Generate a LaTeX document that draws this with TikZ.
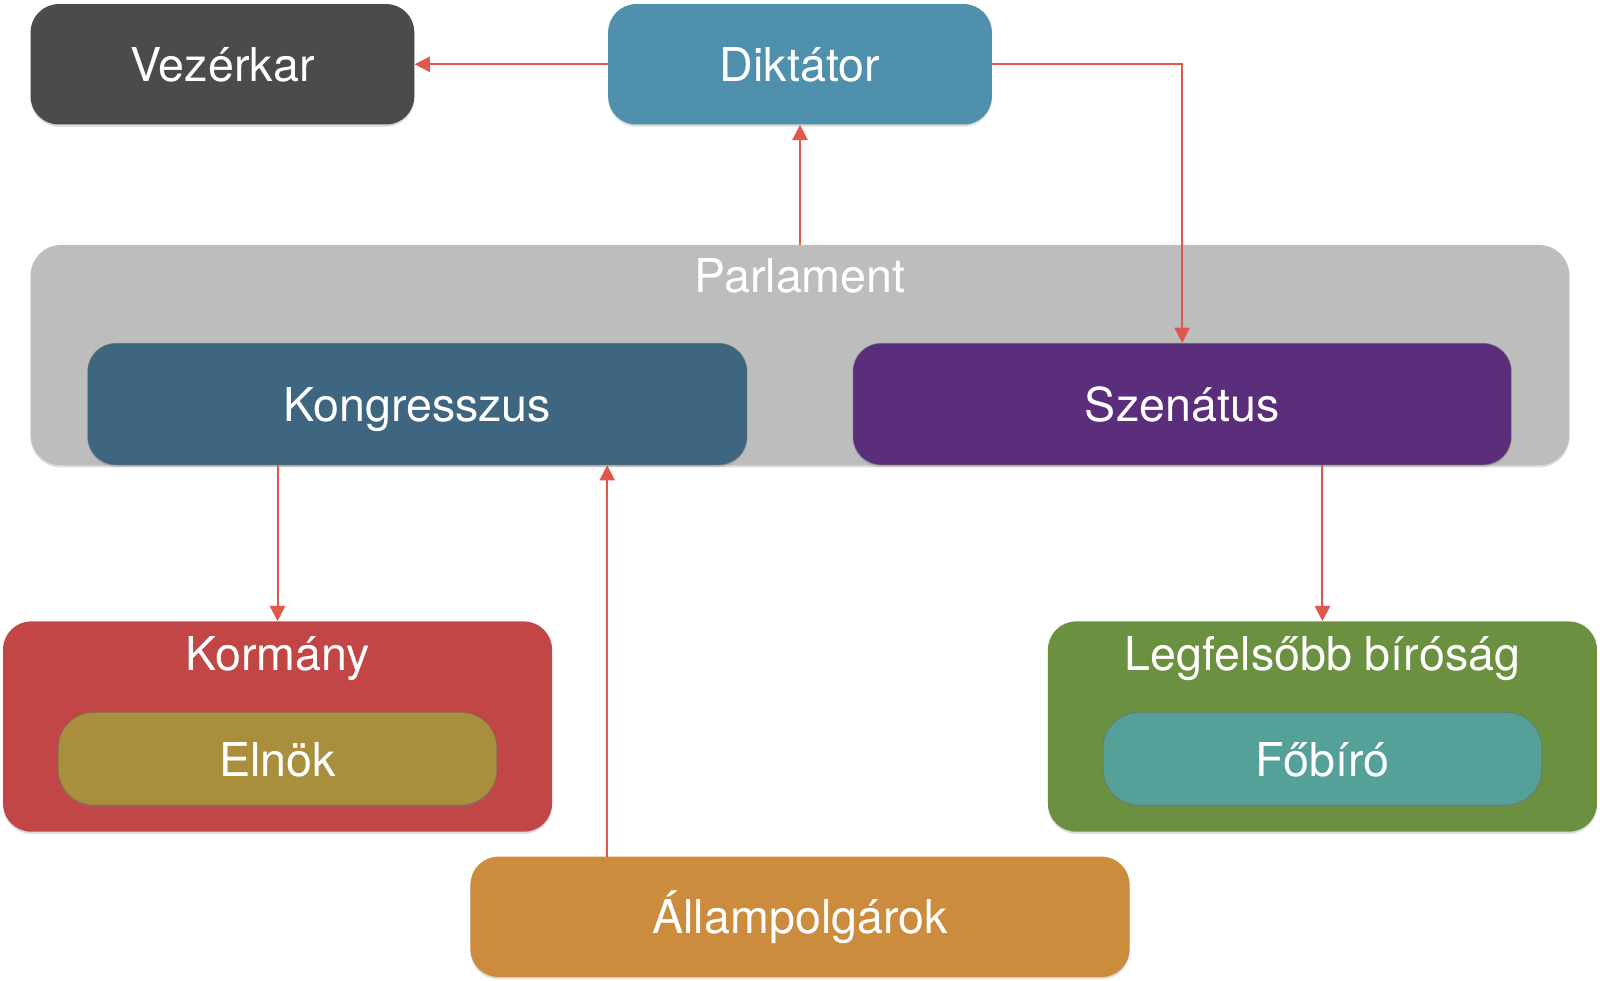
\documentclass[tikz,border=0pt]{standalone}
\usepackage{fontspec}
\setmainfont{TeX Gyre Heros}
\usetikzlibrary{arrows.meta,shadows,calc}
\definecolor{cVez}{HTML}{4B4B4B}
\definecolor{cDik}{HTML}{4F90AD}
\definecolor{cPar}{HTML}{BDBDBD}
\definecolor{cKon}{HTML}{3E6680}
\definecolor{cSze}{HTML}{5B2E7C}
\definecolor{cKor}{HTML}{C24646}
\definecolor{cEln}{HTML}{A98F3C}
\definecolor{cLeg}{HTML}{6B9040}
\definecolor{cFob}{HTML}{55A098}
\definecolor{cAll}{HTML}{CC8C3E}
\definecolor{cArr}{HTML}{E0574E}
\tikzset{
  boxbase/.style={rounded corners=0.55cm, inner sep=0pt, draw=none,
    drop shadow={shadow xshift=0pt, shadow yshift=-1.2pt, opacity=0.28}},
  innerbox/.style={boxbase, draw=black!60, draw opacity=0.5, line width=0.5pt},
  lbl/.style={text=white, font=\fontsize{26}{31}\selectfont, inner sep=0pt, anchor=base},
  arr/.style={draw=cArr, line width=1.1pt, -{Triangle[length=8.5pt,width=8.5pt]}}
}
\begin{document}
\begin{tikzpicture}[x=0.02cm, y=-0.02cm]
\useasboundingbox (0,0) rectangle (1568,961);
% top row
\node[boxbase, fill=cVez, minimum width=376*0.02cm, minimum height=118*0.02cm] (vez) at (218,63) {};
\node[lbl] (vezt) at (218,80) {Vezérkar};
\node[boxbase, fill=cDik, minimum width=376*0.02cm, minimum height=118*0.02cm] (dik) at (784,63) {};
\node[lbl] (dikt) at (784,80) {Diktátor};
% parliament
\node[boxbase, rounded corners=0.6cm, fill=cPar, minimum width=1508*0.02cm, minimum height=216*0.02cm] (par) at (784,348) {};
\node[lbl] (part) at (784,287) {Parlament};
\node[innerbox, fill=cKon, minimum width=646*0.02cm, minimum height=119*0.02cm] (kon) at (409,396) {};
\node[lbl] (kont) at (409,413) {Kongresszus};
\node[innerbox, fill=cSze, minimum width=645*0.02cm, minimum height=119*0.02cm] (sze) at (1158.5,396) {};
\node[lbl] (szet) at (1158.5,413) {Szenátus};
% government
\node[boxbase, fill=cKor, minimum width=538*0.02cm, minimum height=206*0.02cm] (kor) at (272,712) {};
\node[lbl] (kort) at (272,657) {Kormány};
\node[innerbox, rounded corners=0.7cm, fill=cEln, minimum width=430*0.02cm, minimum height=91*0.02cm] (eln) at (272,743.5) {};
\node[lbl] (elnt) at (272,761) {Elnök};
% court
\node[boxbase, fill=cLeg, minimum width=538*0.02cm, minimum height=206*0.02cm] (leg) at (1296,712) {};
\node[lbl] (legt) at (1296,657) {Legfelsőbb bíróság};
\node[innerbox, rounded corners=0.7cm, fill=cFob, minimum width=430*0.02cm, minimum height=91*0.02cm] (fob) at (1296,743.5) {};
\node[lbl] (fobt) at (1296,761) {Főbíró};
% citizens
\node[boxbase, fill=cAll, minimum width=646*0.02cm, minimum height=118*0.02cm] (all) at (784,898.5) {};
\node[lbl] (allt) at (784,915) {Állampolgárok};
% connectors
\coordinate (cit) at (595,839.5);
\draw[arr] (dik.west) -- (vez.east);
\draw[arr] (par.north) -- (dik.south);
\draw[arr] (dik.east) -| (sze.north);
\draw[arr] (kon.south -| kor.north) -- (kor.north);
\draw[arr] (cit) -- (cit |- kon.south);
\draw[arr] (sze.south -| leg.north) -- (leg.north);
\end{tikzpicture}
\end{document}
